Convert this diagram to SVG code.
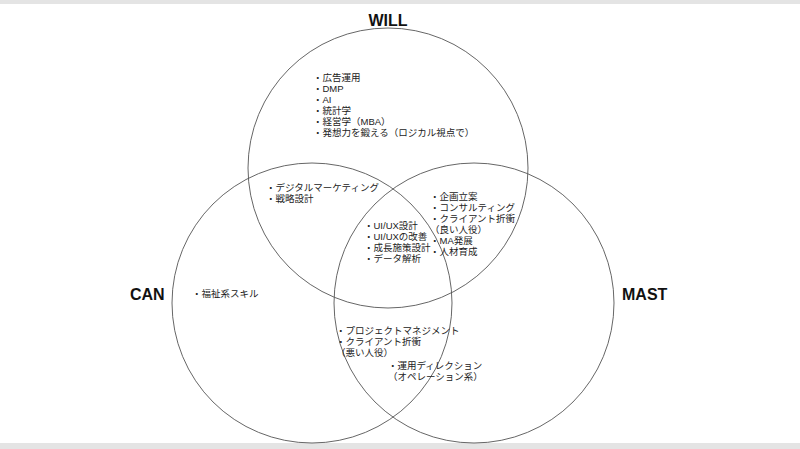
<svg xmlns="http://www.w3.org/2000/svg" width="800" height="449" viewBox="0 0 800 449">
<style>
.c{fill:none;stroke:#555;stroke-width:0.9}
.t{font-family:"Liberation Sans","Noto Sans CJK JP",sans-serif;font-size:9.5px;fill:#222}
.h{font-family:"Liberation Sans",sans-serif;font-size:16px;font-weight:bold;fill:#111}
</style>
<rect width="800" height="449" fill="#fff"/>
<rect x="0" y="0" width="800" height="4" fill="#e4e4e4"/>
<rect x="0" y="443" width="800" height="6" fill="#e4e4e4"/>
<g id="will"><circle class="c" cx="388" cy="168" r="140"/><text class="h" x="388" y="26" text-anchor="middle">WILL</text></g>
<g id="can"><circle class="c" cx="312" cy="303" r="140"/><text class="h" x="130" y="300">CAN</text></g>
<g id="mast"><circle class="c" cx="474" cy="303" r="140"/><text class="h" x="622" y="300">MAST</text></g>
<g id="will-items" class="t">
<text x="313" y="81">・広告運用</text><text x="313" y="92">・DMP</text><text x="313" y="103">・AI</text><text x="313" y="114">・統計学</text><text x="313" y="125">・経営学（MBA）</text><text x="313" y="136">・発想力を鍛える（ロジカル視点で）</text>
</g>
<g id="will-can" class="t"><text x="266" y="191">・デジタルマーケティング</text><text x="266" y="202">・戦略設計</text></g>
<g id="will-mast" class="t"><text x="430" y="200">・企画立案</text><text x="430" y="211">・コンサルティング</text><text x="430" y="222">・クライアント折衝</text><text x="430" y="233">（良い人役）</text><text x="430" y="244">・MA発展</text><text x="430" y="255">・人材育成</text></g>
<g id="center" class="t"><text x="364" y="229">・UI/UX設計</text><text x="364" y="240">・UI/UXの改善</text><text x="364" y="251">・成長施策設計</text><text x="364" y="262">・データ解析</text></g>
<g id="can-items" class="t"><text x="192" y="297">・福祉系スキル</text></g>
<g id="can-mast" class="t"><text x="336" y="334">・プロジェクトマネジメント</text><text x="336" y="345">・クライアント折衝</text><text x="336" y="356">（悪い人役）</text><text x="388" y="369">・運用ディレクション</text><text x="388" y="380">（オペレーション系）</text></g>
<g id="connectors"/>
</svg>
